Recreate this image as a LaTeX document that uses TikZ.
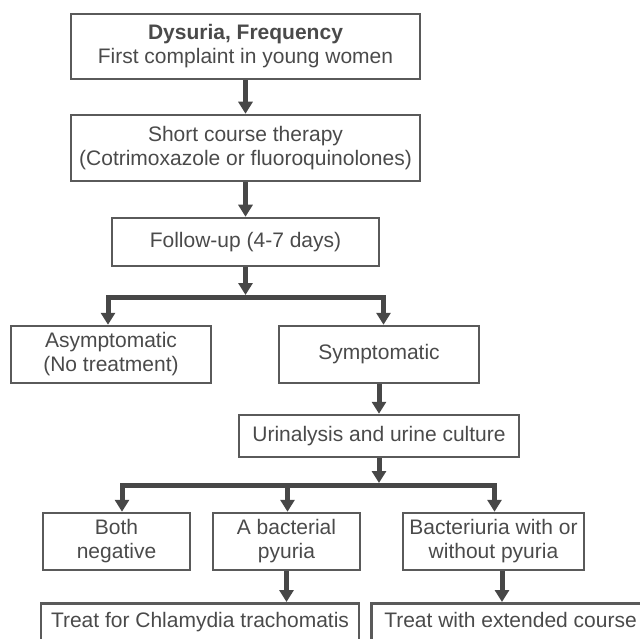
\documentclass[tikz,border=0pt]{standalone}
\usepackage{fontspec}
\setmainfont{Liberation Sans}
\usetikzlibrary{arrows.meta}
\definecolor{boxc}{HTML}{5A5A5A}
\definecolor{arrc}{HTML}{474747}
\definecolor{txtc}{HTML}{4A4A4A}
\begin{document}
\begin{tikzpicture}[x=1pt,y=-1pt,
  >={Triangle[width=14pt,length=12pt]},
  box/.style={draw=boxc, line width=2.5pt, text=txtc,
    font=\fontsize{21}{24}\selectfont, align=center, inner sep=0pt},
  openbox/.style={draw=boxc, line width=2.5pt, text=txtc,
    font=\fontsize{21}{24}\selectfont, inner ysep=0pt, text height=24pt, text depth=60pt},
  arr/.style={draw=arrc, line width=5pt, line join=miter}]
\useasboundingbox (0,0) rectangle (640,639);
\clip (0,0) rectangle (640,639);

\node[box, minimum width=349pt, minimum height=65pt] (b1) at (245.5,46.5)
  {\textbf{Dysuria, Frequency}\\First complaint in young women};
\node[box, minimum width=349pt, minimum height=66pt] (b2) at (245.5,148)
  {Short course therapy\\(Cotrimoxazole or fluoroquinolones)};
\node[box, minimum width=267pt, minimum height=48pt] (b3) at (245.5,242)
  {Follow-up (4-7 days)};
\node[box, minimum width=200pt, minimum height=57pt] (asym) at (111,354.5)
  {Asymptomatic\\(No treatment)};
\node[box, minimum width=200pt, minimum height=57pt] (sym) at (379,354.5)
  {Symptomatic};
\node[box, minimum width=280pt, minimum height=42pt] (uri) at (379,436)
  {Urinalysis and urine culture};
\node[box, minimum width=147pt, minimum height=57pt] (both) at (116.5,541.5)
  {Both\\negative};
\node[box, minimum width=147pt, minimum height=57pt] (abac) at (286.5,541.5)
  {A bacterial\\pyuria};
\node[box, minimum width=181pt, minimum height=57pt] (bact) at (493.5,541.5)
  {Bacteriuria with or\\without pyuria};
\node[openbox, minimum width=318pt, anchor=north] (t1) at (200,602)
  {Treat for Chlamydia trachomatis};
\node[openbox, inner xsep=13pt, anchor=north west] (t2) at (370,602)
  {Treat with extended course};

% vertical arrows
\draw[arr,->] (b1) -- (b2);
\draw[arr,->] (b2) -- (b3);
\coordinate (j1) at (245.5,295);
\draw[arr,->] (b3.south) -- (j1);
\coordinate (l1) at (108,297);
\coordinate (r1) at (383.5,297);
\draw[arr,<->] (l1 |- asym.north) -- (l1) -- (r1) -- (r1 |- sym.north);

\draw[arr,->] (sym) -- (uri);
\coordinate (j2) at (379,483);
\draw[arr,->] (uri.south) -- (j2);
\coordinate (l2) at (122,485.5);
\coordinate (r2) at (494.5,485.5);
\coordinate (m2) at (287.5,485.5);
\draw[arr,<->] (l2 |- both.north) -- (l2) -- (r2) -- (r2 |- bact.north);
\draw[arr,->] (m2) -- (m2 |- abac.north);

\draw[arr,->] (abac.south) -- (abac.south |- t1.north);
\coordinate (bx) at (502,0);
\draw[arr,->] (bact.south -| bx) -- (t2.north -| bx);
\end{tikzpicture}
\end{document}
